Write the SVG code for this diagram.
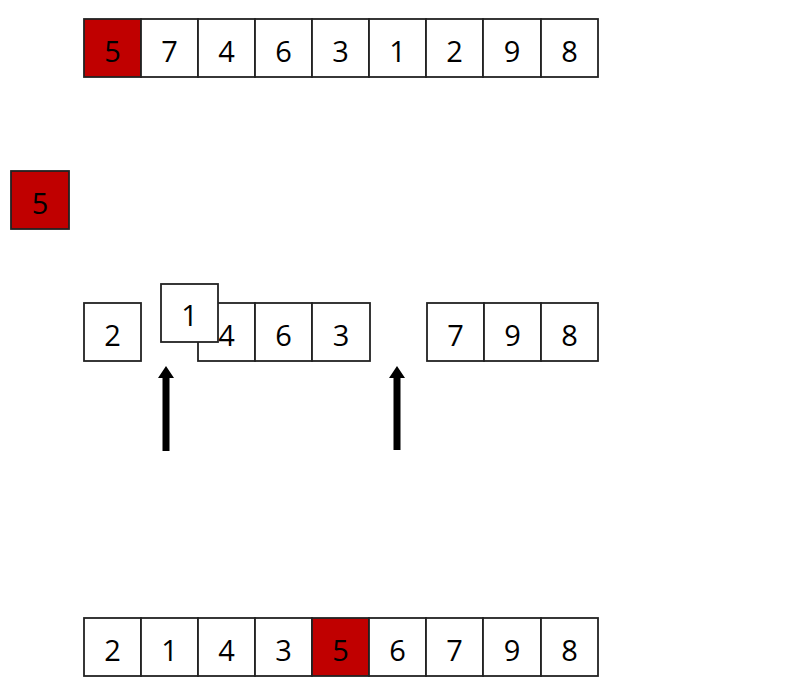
<svg xmlns="http://www.w3.org/2000/svg" width="800" height="700" viewBox="0 0 800 700">
<style>
.c rect{fill:#fff;stroke:#222;stroke-width:1.8}
.c rect.r{fill:#c00000}
.c text{font-family:"Open Sans","Liberation Sans",sans-serif;font-size:29px;fill:#000;text-anchor:middle;dominant-baseline:central}
</style>
<rect width="800" height="700" fill="#fff"/>
<g class="c" id="top-row">
<rect class="r" x="84" y="19" width="57" height="58"/><text x="112.5" y="50">5</text>
<rect x="141" y="19" width="57" height="58"/><text x="169.5" y="50">7</text>
<rect x="198" y="19" width="57" height="58"/><text x="226.5" y="50">4</text>
<rect x="255" y="19" width="57" height="58"/><text x="283.5" y="50">6</text>
<rect x="312" y="19" width="57" height="58"/><text x="340.5" y="50">3</text>
<rect x="369" y="19" width="57" height="58"/><text x="397.5" y="50">1</text>
<rect x="426" y="19" width="57" height="58"/><text x="454.5" y="50">2</text>
<rect x="483" y="19" width="58" height="58"/><text x="512" y="50">9</text>
<rect x="541" y="19" width="57" height="58"/><text x="569.5" y="50">8</text>
</g>
<g class="c" id="pivot">
<rect class="r" x="11" y="171" width="58" height="58"/><text x="40" y="202">5</text>
</g>
<g class="c" id="middle-row">
<rect x="84" y="303" width="57" height="58"/><text x="112.5" y="334">2</text>
<rect x="198" y="303" width="57" height="58"/><text x="226.5" y="334">4</text>
<rect x="255" y="303" width="57" height="58"/><text x="283.5" y="334">6</text>
<rect x="312" y="303" width="58" height="58"/><text x="341" y="334">3</text>
<rect x="427" y="303" width="57" height="58"/><text x="455.5" y="334">7</text>
<rect x="484" y="303" width="57" height="58"/><text x="512.5" y="334">9</text>
<rect x="541" y="303" width="57" height="58"/><text x="569.5" y="334">8</text>
<rect x="161" y="284" width="57" height="58"/><text x="189.5" y="314">1</text>
</g>
<g id="connectors" fill="#000">
<polygon points="166,366 174,378 169.5,378 169.5,451 162.5,451 162.5,378 158,378"/>
<polygon points="397,366 405,378 400.5,378 400.5,450 393.5,450 393.5,378 389,378"/>
</g>
<g class="c" id="bottom-row">
<rect x="84" y="618" width="57" height="58"/><text x="112.5" y="649">2</text>
<rect x="141" y="618" width="57" height="58"/><text x="169.5" y="649">1</text>
<rect x="198" y="618" width="57" height="58"/><text x="226.5" y="649">4</text>
<rect x="255" y="618" width="57" height="58"/><text x="283.5" y="649">3</text>
<rect class="r" x="312" y="618" width="57" height="58"/><text x="340.5" y="649">5</text>
<rect x="369" y="618" width="57" height="58"/><text x="397.5" y="649">6</text>
<rect x="426" y="618" width="57" height="58"/><text x="454.5" y="649">7</text>
<rect x="483" y="618" width="58" height="58"/><text x="512" y="649">9</text>
<rect x="541" y="618" width="57" height="58"/><text x="569.5" y="649">8</text>
</g>
</svg>
